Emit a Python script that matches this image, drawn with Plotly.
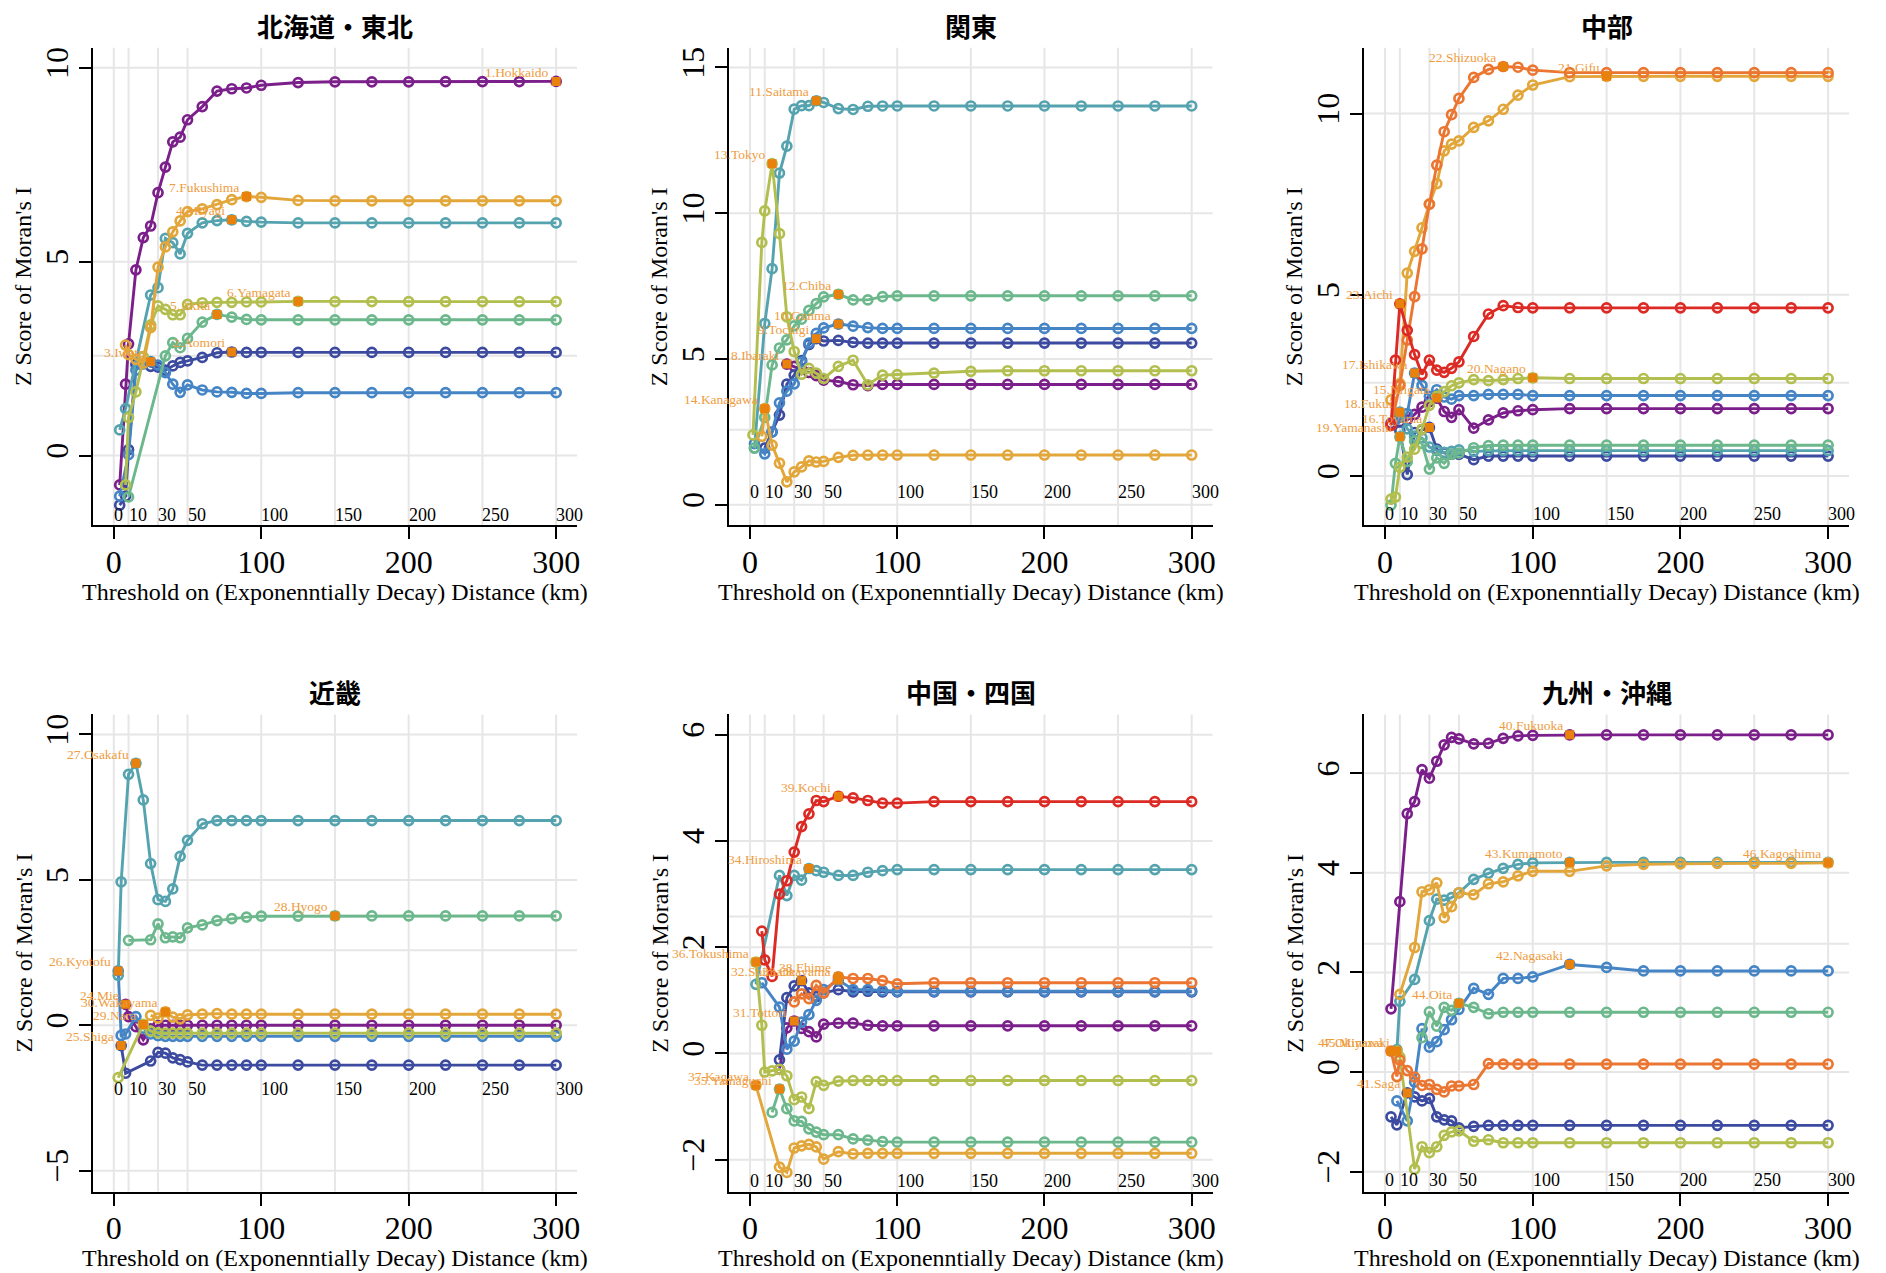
import plotly.graph_objects as go

N = None

# ---------------- data ----------------
TITLES = ["北海道・東北", "関東", "中部", "近畿", "中国・四国", "九州・沖縄"]
X_TITLE = "Threshold on (Exponenntially Decay) Distance (km)"
Y_TITLE = "Z Score of Moran's I"
GRID_X = [0, 10, 30, 50, 100, 150, 200, 250, 300]
Z_CRIT = 2.576

X_TOHOKU = [4, 8, 10, 15, 20, 25, 30, 35, 40, 45, 50, 60, 70, 80, 90, 100, 125, 150, 175, 200, 225, 250, 275, 300]
hokkaido = [-0.76, 1.84, 2.88, 4.79, 5.62, 5.92, 6.78, 7.44, 8.09, 8.21, 8.66, 9.00, 9.40, 9.46, 9.48, 9.55, 9.62, 9.64, 9.64, 9.64, 9.645, 9.645, 9.645, 9.65]
aomori = [-1.28, -1.05, 0.15, 2.35, 2.38, 2.30, 2.28, 2.20, 2.31, 2.40, 2.44, 2.53, 2.65, 2.67, 2.66, 2.66, 2.66, 2.66, 2.66, 2.66, 2.66, 2.66, 2.66, 2.66]
iwate = [-1.05, N, 0.02, 2.20, 2.36, 2.42, 2.33, 2.14, 1.84, 1.63, 1.82, 1.69, 1.64, 1.63, 1.60, 1.60, 1.62, 1.62, 1.62, 1.62, 1.62, 1.62, 1.62, 1.62]
miyagi = [0.66, 1.21, N, N, N, 4.14, 4.33, 5.60, 5.49, 5.20, 5.73, 6.00, 6.06, 6.08, 6.04, 6.02, 6.00, 6.00, 6.00, 6.00, 6.00, 6.00, 6.00, 6.00]
akita = [N, N, -1.07, N, N, N, N, 2.57, 2.91, 2.78, 3.02, 3.44, 3.64, 3.57, 3.51, 3.50, 3.50, 3.50, 3.50, 3.50, 3.50, 3.50, 3.50, 3.50]
yamagata = [N, -0.76, 0.98, 1.64, 2.55, 3.37, 3.86, 3.77, 3.63, 3.63, 3.90, 3.94, 3.95, 3.95, 3.96, 3.96, 3.975, 3.97, 3.97, 3.97, 3.97, 3.97, 3.97, 3.97]
fukushima = [N, 2.85, 2.60, 2.48, 2.38, 3.30, 4.86, 5.38, 5.77, 6.05, 6.29, 6.36, 6.47, 6.60, 6.68, 6.66, 6.58, 6.57, 6.57, 6.57, 6.57, 6.57, 6.57, 6.57]

X_KANTO = [2, 3, 8, 10, 15, 20, 25, 30, 35, 40, 45, 50, 60, 70, 80, 90, 100, 125, 150, 175, 200, 225, 250, 275, 300]
ibaraki = [N, N, N, N, N, N, 4.83, 4.75, 4.65, 4.54, 4.43, 4.28, 4.23, 4.12, 4.09, 4.13, 4.13, 4.13, 4.13, 4.13, 4.13, 4.13, 4.13, 4.13, 4.13]
tochigi = [N, N, N, 1.95, 2.50, 3.08, 4.14, 4.45, 4.95, 5.50, 5.70, 5.62, 5.64, 5.57, 5.55, 5.55, 5.55, 5.55, 5.55, 5.55, 5.55, 5.55, 5.55, 5.55, 5.55]
gunma = [N, 2.10, N, 1.75, 2.50, 3.50, 3.90, 4.15, 4.90, 5.55, 5.88, 6.07, 6.20, 6.13, 6.08, 6.05, 6.05, 6.05, 6.05, 6.05, 6.05, 6.05, 6.05, 6.05, 6.05]
saitama = [N, 1.95, N, 6.22, 8.10, 11.38, 12.30, 13.57, 13.69, 13.69, 13.86, 13.80, 13.59, 13.56, 13.67, 13.68, 13.68, 13.68, 13.68, 13.68, 13.68, 13.68, 13.68, 13.68, 13.68]
chiba = [N, 1.95, N, 3.00, 4.80, 5.38, 5.66, 6.14, 6.37, 6.67, 6.90, 7.13, 7.22, 7.03, 7.03, 7.14, 7.17, 7.17, 7.17, 7.17, 7.17, 7.17, 7.17, 7.17, 7.17]
tokyo = [2.40, N, 9.00, 10.08, 11.70, 9.30, 6.45, 5.26, 4.48, 4.68, 4.52, 4.33, 4.75, 4.96, 4.12, 4.45, 4.47, 4.52, 4.58, 4.60, 4.60, 4.60, 4.60, 4.60, 4.60]
kanagawa = [N, N, 2.35, 3.30, 2.05, 1.43, 0.79, 1.13, 1.30, 1.51, 1.47, 1.49, 1.63, 1.70, 1.71, 1.71, 1.71, 1.71, 1.71, 1.71, 1.71, 1.71, 1.71, 1.71, 1.71]

X_CHUBU = [4, 7, 10, 15, 20, 25, 30, 35, 40, 45, 50, 60, 70, 80, 90, 100, 125, 150, 175, 200, 225, 250, 275, 300]
niigata = [1.45, N, 1.50, 1.55, 1.70, 1.90, 2.05, 2.15, 1.78, 1.62, 1.83, 1.32, 1.55, 1.74, 1.80, 1.83, 1.86, 1.86, 1.86, 1.86, 1.86, 1.86, 1.86, 1.86]
toyama = [N, N, 1.25, 0.04, 1.20, 1.28, 1.34, 0.74, 0.64, 0.60, 0.60, 0.45, 0.55, 0.55, 0.55, 0.55, 0.55, 0.55, 0.55, 0.55, 0.55, 0.55, 0.55, 0.55]
ishikawa = [N, 1.55, 1.65, 1.72, 2.84, 2.50, 2.20, 2.38, 2.18, 2.12, 2.22, 2.22, 2.25, 2.25, 2.25, 2.22, 2.22, 2.22, 2.22, 2.22, 2.22, 2.22, 2.22, 2.22]
fukui = [N, N, 1.76, 1.30, 1.10, 1.05, 0.80, 0.70, 0.65, 0.68, 0.72, 0.68, 0.70, 0.70, 0.70, 0.70, 0.70, 0.70, 0.70, 0.70, 0.70, 0.70, 0.70, 0.70]
yamanashi = [-0.80, 0.35, 1.08, 0.40, 0.96, 0.90, 0.19, 0.50, 0.35, 0.60, 0.63, 0.78, 0.84, 0.85, 0.85, 0.85, 0.85, 0.85, 0.85, 0.85, 0.85, 0.85, 0.85, 0.85]
nagano = [-0.64, -0.58, 0.24, 0.52, 0.74, 1.29, 1.95, 2.20, 2.33, 2.49, 2.57, 2.66, 2.63, 2.66, 2.69, 2.71, 2.69, 2.69, 2.69, 2.69, 2.69, 2.69, 2.69, 2.69]
gifu = [2.10, N, 2.55, 5.60, 6.20, 6.85, 7.50, 8.07, 8.97, 9.16, 9.25, 9.62, 9.80, 10.12, 10.51, 10.79, 11.02, 11.03, 11.03, 11.03, 11.03, 11.03, 11.03, 11.03]
shizuoka = [1.40, N, 2.50, 3.75, 4.95, 6.27, 7.50, 8.58, 9.50, 9.97, 10.42, 11.00, 11.22, 11.30, 11.28, 11.20, 11.13, 11.13, 11.13, 11.13, 11.13, 11.13, 11.13, 11.13]
aichi = [1.40, 3.20, 4.75, 4.02, 3.35, 2.80, 3.20, 2.92, 2.86, 2.97, 3.15, 3.85, 4.47, 4.70, 4.65, 4.64, 4.64, 4.64, 4.64, 4.64, 4.64, 4.64, 4.64, 4.64]

X_KINKI = [3, 5, 8, 10, 15, 20, 25, 30, 35, 40, 45, 50, 60, 70, 80, 90, 100, 125, 150, 175, 200, 225, 250, 275, 300]
mie = [N, N, 0.72, 0.30, -0.05, -0.50, -0.12, 0.00, 0.00, 0.00, 0.00, 0.00, 0.00, 0.00, 0.00, 0.00, 0.00, 0.00, 0.00, 0.00, 0.00, 0.00, 0.00, 0.00, 0.00]
shiga = [N, -0.70, -1.65, N, N, N, -1.23, -0.93, -0.96, -1.12, -1.18, -1.26, -1.37, -1.37, -1.37, -1.37, -1.37, -1.37, -1.37, -1.37, -1.37, -1.37, -1.37, -1.37, -1.37]
kyoto = [1.87, -0.35, -0.30, N, 0.30, -0.10, -0.30, -0.36, -0.38, -0.38, -0.38, -0.38, -0.38, -0.38, -0.38, -0.38, -0.38, -0.38, -0.38, -0.38, -0.38, -0.38, -0.38, -0.38, -0.38]
osaka = [1.72, 4.93, N, 8.63, 9.01, 7.75, 5.56, 4.32, 4.26, 4.69, 5.81, 6.36, 6.93, 7.04, 7.04, 7.04, 7.04, 7.04, 7.04, 7.04, 7.04, 7.04, 7.04, 7.04, 7.04]
hyogo = [N, N, N, 2.92, N, N, 2.94, 3.49, 3.01, 3.04, 3.01, 3.35, 3.45, 3.60, 3.67, 3.72, 3.75, 3.755, 3.76, 3.76, 3.76, 3.76, 3.76, 3.76, 3.76]
nara = [-1.80, N, N, N, N, 0.03, -0.20, -0.26, -0.27, -0.27, -0.27, -0.27, -0.27, -0.27, -0.27, -0.27, -0.27, -0.27, -0.27, -0.27, -0.27, -0.27, -0.27, -0.27, -0.27]
wakayama = [N, N, N, N, N, N, 0.34, 0.25, 0.46, 0.28, 0.22, 0.36, 0.38, 0.40, 0.38, 0.38, 0.38, 0.38, 0.38, 0.38, 0.38, 0.38, 0.38, 0.38, 0.38]

X_CHUGOKU = [4, 8, 10, 15, 20, 25, 30, 35, 40, 45, 50, 60, 70, 80, 90, 100, 125, 150, 175, 200, 225, 250, 275, 300]
tottori = [N, N, N, N, -0.30, 0.48, 0.61, 0.47, 0.41, 0.31, 0.55, 0.57, 0.57, 0.53, 0.52, 0.52, 0.52, 0.52, 0.52, 0.52, 0.52, 0.52, 0.52, 0.52]
shimane = [N, N, N, N, -0.12, 1.05, 1.27, 1.37, 1.14, 1.07, 1.14, 1.20, 1.16, 1.17, 1.16, 1.16, 1.16, 1.16, 1.16, 1.16, 1.16, 1.16, 1.16, 1.16]
okayama = [N, 1.33, N, N, 0.87, 0.08, 0.23, 0.59, 0.73, 1.00, 1.20, 1.38, 1.20, 1.20, 1.18, 1.17, 1.17, 1.17, 1.17, 1.17, 1.17, 1.17, 1.17, 1.17]
hiroshima = [1.30, N, N, N, 3.35, 2.97, 3.35, 3.26, 3.48, 3.44, 3.41, 3.35, 3.35, 3.41, 3.44, 3.46, 3.46, 3.46, 3.46, 3.46, 3.46, 3.46, 3.46, 3.46]
yamaguchi = [N, N, N, -1.11, -0.67, -1.04, -1.27, -1.28, -1.42, -1.48, -1.53, -1.53, -1.61, -1.63, -1.66, -1.67, -1.67, -1.67, -1.67, -1.67, -1.67, -1.67, -1.67, -1.67]
tokushima = [1.72, 0.53, -0.35, -0.33, -0.30, -0.42, -0.87, -0.82, -1.04, -0.53, -0.60, -0.52, -0.51, -0.51, -0.51, -0.51, -0.51, -0.51, -0.51, -0.51, -0.51, -0.51, -0.51, -0.51]
kagawa = [-0.60, N, N, N, -2.14, -2.24, -1.78, -1.74, -1.71, -1.76, -1.99, -1.85, -1.89, -1.88, -1.88, -1.88, -1.88, -1.88, -1.88, -1.88, -1.88, -1.88, -1.88, -1.88]
ehime = [N, N, N, N, N, N, 0.97, 1.12, 1.03, 1.28, 1.14, 1.44, 1.41, 1.41, 1.37, 1.31, 1.33, 1.33, 1.33, 1.33, 1.33, 1.33, 1.33, 1.33]
kochi = [N, 2.30, 1.76, 1.45, 3.00, 3.25, 3.79, 4.27, 4.51, 4.76, 4.74, 4.84, 4.81, 4.76, 4.71, 4.71, 4.74, 4.74, 4.74, 4.74, 4.74, 4.74, 4.74, 4.74]

X_KYUSHU = [4, 8, 10, 15, 20, 25, 30, 35, 40, 45, 50, 60, 70, 80, 90, 100, 125, 150, 175, 200, 225, 250, 275, 300]
fukuoka = [1.27, N, 3.42, 5.19, 5.43, 6.07, 5.90, 6.24, 6.57, 6.72, 6.69, 6.59, 6.60, 6.70, 6.75, 6.76, 6.77, 6.77, 6.77, 6.77, 6.77, 6.77, 6.77, 6.77]
saga = [-0.90, -1.06, N, -0.42, -0.50, -0.58, -0.53, -0.90, -0.96, -0.98, -1.12, -1.09, -1.07, -1.07, -1.07, -1.07, -1.07, -1.07, -1.07, -1.07, -1.07, -1.07, -1.07, -1.07]
nagasaki = [N, -0.58, N, -0.98, -0.20, 0.87, 0.50, 0.61, 0.85, 1.05, 1.26, 1.68, 1.56, 1.88, 1.88, 1.91, 2.16, 2.10, 2.03, 2.03, 2.03, 2.03, 2.03, 2.03]
kumamoto = [N, 0.45, 1.42, N, 1.86, N, 3.04, 3.47, 3.45, 3.50, 3.60, 3.87, 3.99, 4.09, 4.17, 4.20, 4.21, 4.21, 4.21, 4.21, 4.21, 4.21, 4.21, 4.21]
oita = [N, N, N, N, N, 0.69, 1.21, 0.92, 1.30, 1.24, 1.38, 1.30, 1.17, 1.20, 1.20, 1.20, 1.20, 1.20, 1.20, 1.20, 1.20, 1.20, 1.20, 1.20]
miyazaki = [N, 0.42, 0.30, N, -1.95, -1.50, -1.62, -1.50, -1.27, -1.20, -1.18, -1.39, -1.36, -1.42, -1.42, -1.42, -1.42, -1.42, -1.42, -1.42, -1.42, -1.42, -1.42, -1.42]
kagoshima = [N, N, 1.56, N, 2.50, 3.62, 3.66, 3.80, 3.10, 3.32, 3.60, 3.56, 3.78, 3.82, 3.94, 4.03, 4.03, 4.14, 4.17, 4.18, 4.19, 4.19, 4.19, 4.20]
okinawa = [0.42, -0.09, 0.24, 0.03, -0.10, -0.27, -0.25, -0.35, -0.40, -0.28, -0.28, -0.25, 0.17, 0.16, 0.16, 0.16, 0.16, 0.16, 0.16, 0.16, 0.16, 0.16, 0.16, 0.16]

REGIONS = [
    (X_TOHOKU, [("1.Hokkaido", hokkaido), ("2.Aomori", aomori), ("3.Iwate", iwate), ("4.Miyagi", miyagi),
                ("5.Akita", akita), ("6.Yamagata", yamagata), ("7.Fukushima", fukushima)]),
    (X_KANTO, [("8.Ibaraki", ibaraki), ("9.Tochigi", tochigi), ("10.Gunma", gunma), ("11.Saitama", saitama),
               ("12.Chiba", chiba), ("13.Tokyo", tokyo), ("14.Kanagawa", kanagawa)]),
    (X_CHUBU, [("15.Niigata", niigata), ("16.Toyama", toyama), ("17.Ishikawa", ishikawa), ("18.Fukui", fukui),
               ("19.Yamanashi", yamanashi), ("20.Nagano", nagano), ("21.Gifu", gifu), ("22.Shizuoka", shizuoka),
               ("23.Aichi", aichi)]),
    (X_KINKI, [("24.Mie", mie), ("25.Shiga", shiga), ("26.Kyotofu", kyoto), ("27.Osakafu", osaka),
               ("28.Hyogo", hyogo), ("29.Nara", nara), ("30.Wakayama", wakayama)]),
    (X_CHUGOKU, [("31.Tottori", tottori), ("32.Shimane", shimane), ("33.Okayama", okayama), ("34.Hiroshima", hiroshima),
                 ("35.Yamaguchi", yamaguchi), ("36.Tokushima", tokushima), ("37.Kagawa", kagawa), ("38.Ehime", ehime),
                 ("39.Kochi", kochi)]),
    (X_KYUSHU, [("40.Fukuoka", fukuoka), ("41.Saga", saga), ("42.Nagasaki", nagasaki), ("43.Kumamoto", kumamoto),
                ("44.Oita", oita), ("45.Miyazaki", miyazaki), ("46.Kagoshima", kagoshima), ("47.Okinawa", okinawa)]),
]

Y_TICKS = [[0, 5, 10], [0, 5, 10, 15], [0, 5, 10], [-5, 0, 5, 10], [-2, 0, 2, 4, 6], [-2, 0, 2, 4, 6]]

# ---------------- styling / layout ----------------
PALETTE = ["#7B1F8A", "#3C4BA0", "#4685C5", "#55A3AF", "#6CB88C", "#B2BE4E", "#E2A63A", "#EB7632", "#DC2A24"]
MAX_COLOR = "#E8820C"
LABEL_COLOR = "#EF9C3E"
GRID_COLOR = "#E6E6E6"
SERIF = "Liberation Serif, Times New Roman, serif"
CJK = "Noto Sans CJK JP, Noto Sans CJK SC, sans-serif"

W, H = 1886, 1273
COL_PX = [(93, 578), (730.3, 1214.5), (1366.3, 1852)]
ROW_PX = [(46.7, 524.7), (714, 1191.5)]
Y_RANGES = [[-1.80, 10.52], [-0.70, 15.68], [-1.36, 11.82], [-5.72, 10.69], [-2.60, 6.38], [-2.40, 7.18]]
X_RANGE = [-14.2, 314.2]
INNER_LABEL_Y = [-1.53, 0.435, -1.06, -2.18, -2.40, -2.17]
TITLE_Y_PX = [24.5, 691]
XTITLE_Y_PX = [591, 1257.7]

fig = go.Figure()
shapes = []
annotations = []
layout_axes = {}

for i, (xs, series) in enumerate(REGIONS):
    row, col = divmod(i, 3)
    s = "" if i == 0 else str(i + 1)
    xa, ya = "x" + s, "y" + s
    l, r = COL_PX[col]
    t, b = ROW_PX[row]
    layout_axes["xaxis" + s] = dict(
        domain=[l / W, r / W], anchor=ya, range=X_RANGE, tickmode="array", tickvals=[0, 100, 200, 300],
        ticks="outside", ticklen=12, tickwidth=2, tickcolor="black", showline=True, linecolor="black",
        linewidth=2, showgrid=False, zeroline=False, tickfont=dict(family=SERIF, size=32, color="black"),
        ticklabelstandoff=-5,
    )
    layout_axes["yaxis" + s] = dict(
        domain=[1 - b / H, 1 - t / H], anchor=xa, range=Y_RANGES[i], tickmode="array", tickvals=Y_TICKS[i],
        ticks="outside", ticklen=12, tickwidth=2, tickcolor="black", showline=True, linecolor="black",
        linewidth=2, showgrid=False, zeroline=False, tickangle=-90,
        tickfont=dict(family=SERIF, size=32, color="black"), ticklabelstandoff=-2,
    )
    # grid lines
    for v in GRID_X:
        shapes.append(dict(type="line", xref=xa, yref=ya + " domain", x0=v, x1=v, y0=0, y1=1,
                           line=dict(color=GRID_COLOR, width=2), layer="below"))
    for h in Y_TICKS[i] + [Z_CRIT]:
        shapes.append(dict(type="line", xref=xa + " domain", yref=ya, x0=0, x1=1, y0=h, y1=h,
                           line=dict(color=GRID_COLOR, width=2), layer="below"))
    # inner distance labels
    for v in GRID_X:
        annotations.append(dict(xref=xa, yref=ya, x=v, y=INNER_LABEL_Y[i], text=str(v), showarrow=False,
                                xanchor="left", yanchor="middle", xshift=-2,
                                font=dict(family=SERIF, size=18, color="black")))
    # series
    max_x, max_y = [], []
    for k, (name, ys) in enumerate(series):
        colr = PALETTE[k]
        fig.add_trace(go.Scatter(
            x=xs, y=ys, xaxis=xa, yaxis=ya, mode="lines+markers", connectgaps=True, name=name,
            line=dict(color=colr, width=2.9),
            marker=dict(symbol="circle-open", size=9, color=colr, line=dict(width=2.7, color=colr)),
            showlegend=False, hoverinfo="skip",
        ))
        best = None
        for xv, yv in zip(xs, ys):
            if yv is not None and (best is None or yv > best[1]):
                best = (xv, yv)
        max_x.append(best[0])
        max_y.append(best[1])
        annotations.append(dict(xref=xa, yref=ya, x=best[0], y=best[1], text=name, showarrow=False,
                                xanchor="right", yanchor="middle", xshift=-5, yshift=9,
                                font=dict(family=SERIF, size=13.5, color=LABEL_COLOR)))
    fig.add_trace(go.Scatter(
        x=max_x, y=max_y, xaxis=xa, yaxis=ya, mode="markers",
        marker=dict(symbol="square", size=9, color=MAX_COLOR), showlegend=False, hoverinfo="skip",
    ))
    # titles
    cx = (l + r) / 2
    annotations.append(dict(xref="paper", yref="paper", x=cx / W, y=1 - TITLE_Y_PX[row] / H, text=TITLES[i],
                            showarrow=False, xanchor="center", yanchor="middle",
                            font=dict(family=CJK, size=26, color="black", weight="bold")))
    annotations.append(dict(xref="paper", yref="paper", x=cx / W, y=1 - XTITLE_Y_PX[row] / H, text=X_TITLE,
                            showarrow=False, xanchor="center", yanchor="middle",
                            font=dict(family=SERIF, size=24, color="black")))
    annotations.append(dict(xref="paper", yref="paper", x=(l - 69.4) / W, y=1 - (t + b) / 2 / H, text=Y_TITLE,
                            showarrow=False, xanchor="center", yanchor="middle", textangle=-90,
                            font=dict(family=SERIF, size=24, color="black")))

fig.update_layout(
    width=W, height=H, margin=dict(l=0, r=0, t=0, b=0), paper_bgcolor="white", plot_bgcolor="white",
    showlegend=False, shapes=shapes, annotations=annotations, **layout_axes,
)
fig.write_html("out.html", config={"displayModeBar": False},
               post_script="document.body.style.margin='0';document.body.style.padding='0';")
